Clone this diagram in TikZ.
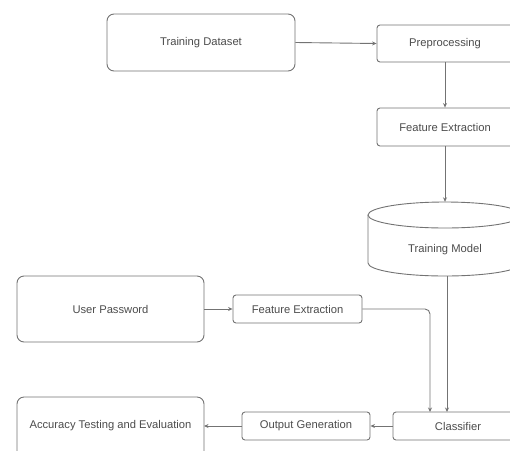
\documentclass[tikz,border=0pt]{standalone}
\usepackage{fontspec}
\setmainfont{Liberation Sans}
\usetikzlibrary{arrows.meta}
\definecolor{edge}{gray}{0.45}
\definecolor{txt}{gray}{0.3}
\tikzset{
  lbl/.style={text=txt, font=\fontsize{11.2}{13}\selectfont},
  box/.style={draw=edge, line width=0.9pt, rounded corners=3pt, fill=white, lbl, inner sep=0pt},
  bigbox/.style={box, rounded corners=7pt},
  conn/.style={draw=edge, line width=0.9pt, -{Stealth[length=4.5pt,width=4pt]}}
}
\begin{document}
\begin{tikzpicture}[x=1pt,y=-1pt]
\useasboundingbox (0,0) rectangle (510,450);
\clip (0,0) rectangle (510,450);
% nodes
\node[bigbox, minimum width=188pt, minimum height=57pt] (td) at (201,42.5) {Training Dataset};
\node[box, minimum width=136pt, minimum height=37pt] (pre) at (445,43.5) {Preprocessing};
\node[box, minimum width=136pt, minimum height=38pt] (fe1) at (445,127) {Feature Extraction};
% cylinder
\node[minimum width=154pt, minimum height=74pt, inner sep=0pt] (tm) at (445,239) {};
\draw[draw=edge, line width=0.9pt, fill=white] (368,215) -- (368,263) arc[start angle=180, end angle=0, x radius=77, y radius=13] -- (522,215);
\draw[draw=edge, line width=0.9pt, fill=white] (445,215) ellipse [x radius=77, y radius=13];
\node[lbl] (tml) at (445,250) {Training Model};
\node[bigbox, minimum width=187pt, minimum height=66pt] (up) at (110.5,309) {User Password};
\node[box, minimum width=129pt, minimum height=28pt] (fe2) at (297.5,309) {Feature Extraction};
\node[box, minimum width=130pt, minimum height=28pt] (cls) at (458,426) {Classifier};
\node[box, minimum width=128pt, minimum height=28pt] (og) at (306,426) {Output Generation};
\node[bigbox, minimum width=187pt, minimum height=70pt] (ate) at (110.5,432) {};
\node[lbl] (atel) at (110.5,426) {Accuracy Testing and Evaluation};
% connectors
\coordinate (c1) at (430,412);
\coordinate (c2) at (447,412);
\coordinate (ateR) at (204,426);
\draw[conn] (td.east) -- (pre.west);
\draw[conn] (pre.south) -- (fe1.north);
\draw[conn] (fe1.south) -- (tm.north);
\draw[conn] (tm.south -| c2) -- (c2);
\draw[conn] (up.east) -- (fe2.west);
\draw[conn, rounded corners=5pt] (fe2.east) -| (c1);
\draw[conn] (cls.west) -- (og.east);
\draw[conn] (og.west) -- (ateR);
\end{tikzpicture}
\end{document}
